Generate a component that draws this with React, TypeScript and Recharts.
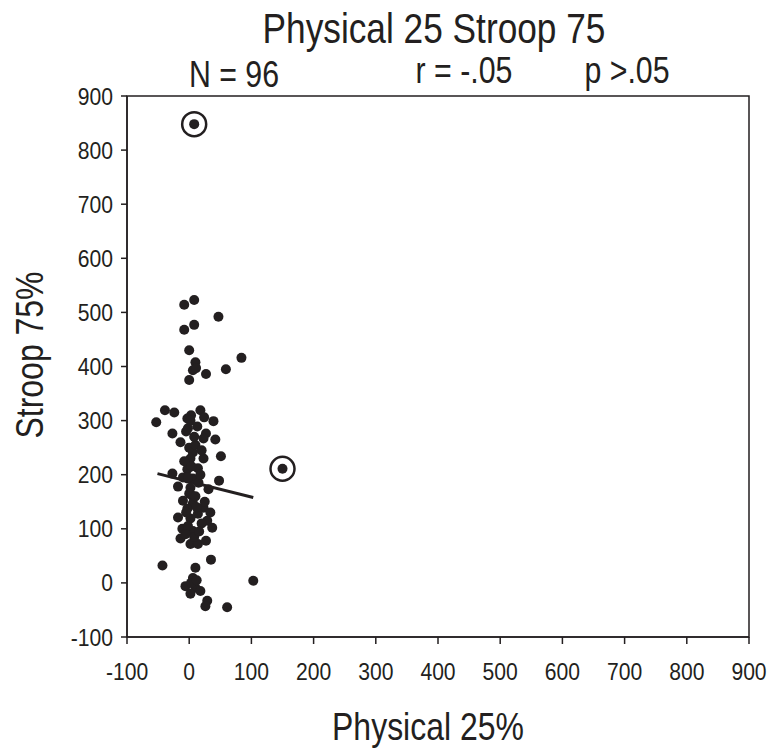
import { ScatterChart, Scatter, XAxis, YAxis, ReferenceArea, ReferenceLine } from 'recharts';

const FONT = "'Liberation Sans', Arial, sans-serif";
const INK = '#231f20';
const NARROW = 0.82; // squeeze to mimic Helvetica Narrow

// Physical 25% (x) and Stroop 75% (y) for each participant
const physical = [
  8, -8, 47, 8, -8, 0, 10, 84, 6, 11, 27, 59, 0, -39, -24, -53, 18, 3, -3, 24,
  39, 13, -2, -27, -5, 27, 23, 42, -14, 6, 23, 51, 2, 14, -3, -27, 6, -3, 48, -18,
  2, 31, 5, -10, 6, 23, -3, 34, 14, -18, 2, 29, -11, 6, 37, -14, 2, 14, 27, -43,
  10, 35, 103, 6, -6, 10, 18, 2, 29, 26, 61, 0, 10, -8, 15, 0, 10, -5, 20, 12,
  -2, 4, 8, -10, 18, 25, -6, 8, 16, 3, 12, -2, 20, 2,
];
const stroop = [
  523, 514, 492, 477, 468, 430, 408, 416, 393, 397, 386, 395, 375, 319, 315, 297, 319, 310, 304, 306,
  299, 289, 286, 276, 280, 276, 267, 265, 260, 241, 230, 234, 230, 212, 210, 202, 193, 193, 189, 178,
  176, 173, 161, 152, 147, 139, 137, 130, 128, 121, 119, 115, 100, 96, 102, 82, 72, 72, 78, 32,
  28, 43, 4, 9, -6, -9, -15, -20, -33, -43, -45, 250, 255, 225, 185, 165, 160, 130, 110, 140,
  105, 215, 270, 195, 200, 150, 90, 85, 95, 0, 5, 195, 245, 300,
];

// circled outliers
const outlierPhysical = [8, 150];
const outlierStroop = [848, 211];

// regression line end points
const fitPhysical = [-51, 103];
const fitStroop = [202, 158];

const axisTicks = [-100, 0, 100, 200, 300, 400, 500, 600, 700, 800, 900];

const points = physical.map((x, i) => ({ x, y: stroop[i] }));
const outliers = outlierPhysical.map((x, i) => ({ x, y: outlierStroop[i] }));

function NarrowText({ x, y, size, anchor = 'middle', rotate = 0, squeeze = NARROW, children }: any) {
  return (
    <text
      transform={`translate(${x},${y}) rotate(${rotate}) scale(${squeeze},1)`}
      fontFamily={FONT}
      fontSize={size}
      fill={INK}
      textAnchor={anchor}
    >
      {children}
    </text>
  );
}

function XTick(props: any) {
  return (
    <NarrowText x={props.x} y={props.y + 16.5} size={24} squeeze={0.88}>
      {props.payload.value}
    </NarrowText>
  );
}

function YTick(props: any) {
  return (
    <NarrowText x={props.x} y={props.y + 8.5} size={24} squeeze={0.88} anchor="end">
      {props.payload.value}
    </NarrowText>
  );
}

function Dot(props: any) {
  return <circle cx={props.cx} cy={props.cy} r={5} fill={INK} />;
}

function CircledDot(props: any) {
  return (
    <g>
      <circle cx={props.cx} cy={props.cy} r={12} fill="none" stroke={INK} strokeWidth={2.5} />
      <circle cx={props.cx} cy={props.cy} r={5} fill={INK} />
    </g>
  );
}

export default function App() {
  return (
    <div style={{ position: 'absolute', left: 0, top: 0, width: 771, height: 753, background: '#fff' }}>
      <ScatterChart width={771} height={753} margin={{ top: 96, right: 22, bottom: 66, left: 67 }}>
        <XAxis
          type="number"
          dataKey="x"
          domain={[-100, 900]}
          ticks={axisTicks}
          allowDataOverflow
          height={50}
          tick={XTick}
          tickSize={7}
          tickMargin={19}
          stroke={INK}
          axisLine={{ stroke: INK, strokeWidth: 1.5 }}
          tickLine={{ stroke: INK, strokeWidth: 1.5 }}
        />
        <YAxis
          type="number"
          dataKey="y"
          domain={[-100, 900]}
          ticks={axisTicks}
          allowDataOverflow
          width={60}
          tick={YTick}
          tickSize={6}
          tickMargin={8}
          stroke={INK}
          axisLine={{ stroke: INK, strokeWidth: 1.5 }}
          tickLine={{ stroke: INK, strokeWidth: 1.5 }}
        />
        <ReferenceArea x1={-100} x2={900} y1={-100} y2={900} fill="none" stroke={INK} strokeWidth={1.5} fillOpacity={0} />
        <Scatter data={points} shape={Dot} isAnimationActive={false} />
        <Scatter data={outliers} shape={CircledDot} isAnimationActive={false} />
        <ReferenceLine
          segment={[
            { x: fitPhysical[0], y: fitStroop[0] },
            { x: fitPhysical[1], y: fitStroop[1] },
          ]}
          stroke={INK}
          strokeWidth={3}
        />
      </ScatterChart>
      <svg width={771} height={753} style={{ position: 'absolute', left: 0, top: 0, pointerEvents: 'none' }}>
        <NarrowText x={434} y={43} size={43}>Physical 25 Stroop 75</NarrowText>
        <NarrowText x={234} y={87} size={37}>N = 96</NarrowText>
        <NarrowText x={464} y={83} size={37}>r = -.05</NarrowText>
        <NarrowText x={627} y={83} size={37}>p &gt;.05</NarrowText>
        <NarrowText x={428} y={740} size={39}>Physical 25%</NarrowText>
        <NarrowText x={43} y={355} size={39} rotate={-90}>Stroop 75%</NarrowText>
      </svg>
    </div>
  );
}
